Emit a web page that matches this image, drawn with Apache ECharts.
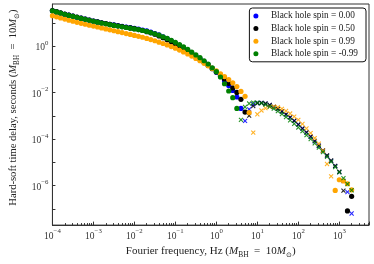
<!DOCTYPE html>
<html>
<head>
<meta charset="utf-8">
<script src="https://cdn.jsdelivr.net/npm/echarts/dist/echarts.min.js"></script>
<style>html,body{margin:0;padding:0;background:#fff;}#c{width:374px;height:264px;}</style>
</head>
<body>
<div id="c"></div>
<script>
// Fourier frequencies (Hz)
const freq = [
  1e-4,1.26e-4,1.58e-4,2e-4,2.51e-4,3.16e-4,3.98e-4,5.01e-4,6.31e-4,7.94e-4,
  1e-3,1.26e-3,1.58e-3,2e-3,2.51e-3,3.16e-3,3.98e-3,5.01e-3,6.31e-3,7.94e-3,
  0.01,0.0126,0.0158,0.02,0.0251,0.0316,0.0398,0.0501,0.0631,0.0794,
  0.1,0.126,0.158,0.2,0.251,0.316,0.398,0.501,0.631,0.794,
  1,1.26,1.58,2,2.51,3.16,3.98,5.01,6.31,7.94,
  10,12.6,15.8,20,25.1,31.6,39.8,50.1,63.1,79.4,
  100,126,158,200,251,316,398,501,631,794,
  1000,1260,1580,1995
];
// Hard-soft time delays (s); negative values are drawn as crosses (|value|)
const delaySpin000 = [
  33.1,29.5,26.3,23.4,21.4,19.5,17.4,15.8,14.5,13.2,
  12.0,11.0,10.0,9.33,8.71,8.13,7.59,7.08,6.61,6.17,
  5.75,5.37,4.90,4.47,3.98,3.47,3.02,2.51,2.09,1.70,
  1.35,1.07,0.851,0.661,0.501,0.380,0.288,0.214,0.155,0.110,
  0.0759,0.0501,0.0316,0.0200,0.0123,6.46e-3,2.09e-3,-6.03e-4,-1.91e-3,-3.16e-3,
  -3.63e-3,-3.63e-3,-3.31e-3,-2.88e-3,-2.40e-3,-1.95e-3,-1.51e-3,-1.15e-3,-8.51e-4,-6.03e-4,
  -4.17e-4,-2.82e-4,-1.91e-4,-1.26e-4,-7.94e-5,-5.01e-5,-3.09e-5,-1.91e-5,-1.15e-5,-6.92e-6,
  -3.80e-6,-1.58e-6,-5.25e-7,-6.31e-8
];
const delaySpin050 = [
  33.9,30.2,26.9,24.0,21.4,19.5,17.8,15.8,14.5,13.2,
  12.0,11.0,10.0,9.33,8.51,7.94,7.41,6.92,6.46,6.03,
  5.62,5.13,4.68,4.17,3.72,3.24,2.75,2.29,1.86,1.51,
  1.20,0.955,0.759,0.589,0.457,0.347,0.263,0.200,0.148,0.107,
  0.0776,0.0550,0.0380,0.0251,0.0158,0.0102,5.13e-3,1.45e-3,-1.02e-3,-2.63e-3,
  -3.47e-3,-3.63e-3,-3.39e-3,-2.95e-3,-2.45e-3,-2.00e-3,-1.55e-3,-1.17e-3,-8.71e-4,-6.17e-4,
  -4.27e-4,-2.88e-4,-1.95e-4,-1.29e-4,-8.32e-5,-5.25e-5,-3.24e-5,-2.00e-5,-1.20e-5,-7.08e-6,
  -3.98e-6,-6.03e-7,8.13e-8,3.47e-7
];
const delaySpin099 = [
  20.4,18.2,16.2,14.5,12.9,11.7,10.5,9.55,8.71,7.94,
  7.24,6.61,6.03,5.50,5.01,4.57,4.17,3.80,3.47,3.16,
  2.88,2.63,2.40,2.14,1.91,1.70,1.48,1.29,1.12,0.955,
  0.813,0.676,0.562,0.457,0.372,0.295,0.234,0.182,0.141,0.110,
  0.0851,0.0646,0.0490,0.0363,0.0263,0.0182,0.0112,6.92e-3,1.38e-3,-1.91e-4,
  -1.17e-3,-1.70e-3,-2.14e-3,-2.45e-3,-2.51e-3,-2.34e-3,-2.00e-3,-1.62e-3,-1.26e-3,-9.33e-4,
  -6.76e-4,-4.47e-4,-2.88e-4,-1.82e-4,-1.10e-4,-6.31e-5,-3.16e-5,-8.51e-6,-2.51e-6,6.17e-7,
  1.78e-6,1.58e-6,1.20e-6,6.61e-7
];
const delaySpinM099 = [
  33.1,29.5,26.3,23.4,20.9,19.1,17.4,15.5,14.1,12.9,
  11.7,10.7,9.77,9.12,8.32,7.76,7.24,6.76,6.31,5.89,
  5.50,5.13,4.68,4.27,3.80,3.39,2.95,2.51,2.14,1.78,
  1.45,1.17,0.933,0.724,0.550,0.417,0.316,0.234,0.170,0.117,
  0.0794,0.0468,0.0240,0.0117,6.03e-3,2.09e-3,-6.76e-4,-2.40e-3,-3.39e-3,-3.72e-3,
  -3.72e-3,-3.47e-3,-3.02e-3,-2.51e-3,-2.04e-3,-1.58e-3,-1.20e-3,-8.91e-4,-6.46e-4,-4.57e-4,
  -3.16e-4,-2.19e-4,-1.48e-4,-1.00e-4,-6.61e-5,-4.27e-5,-2.75e-5,-1.74e-5,-1.07e-5,-6.31e-6,
  -3.72e-6,-2.09e-6,-1.17e-6,-6.31e-7
];
const seriesNames = ['Black hole spin = 0.00','Black hole spin = 0.50','Black hole spin = 0.99','Black hole spin = -0.99'];
const seriesValues = [delaySpin000, delaySpin050, delaySpin099, delaySpinM099];
const seriesColors = ['#0000ff','#000000','#ffa500','#008000'];

const crossPath = 'path://M0,1.6L1.6,0L5,3.4L8.4,0L10,1.6L6.6,5L10,8.4L8.4,10L5,6.6L1.6,10L0,8.4L3.4,5Z';
const FONT = 'Liberation Serif';

const series = [];
seriesNames.forEach((name, s) => {
  const vals = seriesValues[s];
  const pos = [], neg = [];
  freq.forEach((f, i) => {
    const v = vals[i];
    if (v > 0) pos.push([f, v]); else neg.push([f, -v]);
  });
  series.push({
    name: name, type: 'scatter', data: pos, symbol: 'circle', symbolSize: 5.2,
    itemStyle: { color: seriesColors[s], opacity: 1 }, silent: true
  });
  series.push({
    name: name + ' (negative)', type: 'scatter', data: neg, symbol: crossPath, symbolSize: 4.8,
    itemStyle: { color: seriesColors[s], opacity: 0.85 }, silent: true
  });
});

function powLabel(v, everyOther) {
  const e = Math.log10(v);
  const r = Math.round(e);
  if (Math.abs(e - r) > 1e-6) return '';
  if (everyOther && r % 2 !== 0) return '';
  return '{b|10}{s|' + (r < 0 ? '\u2212' : '') + Math.abs(r) + '}';
}
const labelRich = {
  b: { fontFamily: FONT, fontSize: 9.5, color: '#333', lineHeight: 13, verticalAlign: 'bottom' },
  s: { fontFamily: FONT, fontSize: 6.8, color: '#333', lineHeight: 8, verticalAlign: 'top' }
};
function nameRich(size) {
  return {
    t: { fontFamily: FONT, fontSize: size, color: '#222', lineHeight: size + 4 },
    i: { fontFamily: FONT, fontSize: size, fontStyle: 'italic', color: '#222', lineHeight: size + 4 },
    s: { fontFamily: FONT, fontSize: size * 0.68, color: '#222', lineHeight: size * 0.9, verticalAlign: 'bottom' }
  };
}

const chart = echarts.init(document.getElementById('c'), null, { renderer: 'canvas' });
chart.setOption({
  animation: false,
  backgroundColor: '#fff',
  grid: { left: 40, right: 5, top: 4, bottom: 31, show: true, borderColor: '#333', borderWidth: 1, backgroundColor: 'transparent' },
  xAxis: {
    type: 'log', logBase: 10, min: 1e-4, max: 5297,
    name: '{t|Fourier frequency, Hz (}{i|M}{s|BH}{t|  =  10}{i|M}{s|\u2299}{t|)}',
    nameLocation: 'middle', nameGap: 14,
    nameTextStyle: { rich: nameRich(11) },
    axisLine: { lineStyle: { color: '#333', width: 1 } },
    axisTick: { inside: true, length: 3.5, lineStyle: { color: '#333' } },
    minorTick: { show: true, splitNumber: 9, length: 2, lineStyle: { color: '#333' } },
    splitLine: { show: false },
    axisLabel: { margin: 3, formatter: v => powLabel(v, false), rich: labelRich, showMinLabel: true, showMaxLabel: false }
  },
  yAxis: {
    type: 'log', logBase: 10, min: 2e-8, max: 64.6,
    name: '{t|Hard-soft time delay, seconds (}{i|M}{s|BH}{t|  =  10}{i|M}{s|\u2299}{t|)}',
    nameLocation: 'middle', nameGap: 25,
    nameTextStyle: { rich: nameRich(10.6), padding: [0, 0, 0, 14] },
    axisLine: { lineStyle: { color: '#333', width: 1 } },
    axisTick: { inside: true, length: 3, lineStyle: { color: '#333' } },
    splitLine: { show: false },
    axisLabel: { margin: 4, formatter: v => powLabel(v, true), rich: labelRich, showMinLabel: false, showMaxLabel: false }
  },
  legend: {
    data: seriesNames, orient: 'vertical', right: 8, top: 8,
    backgroundColor: '#fff', borderColor: '#111', borderWidth: 1, borderRadius: 3,
    padding: [3, 8, 3, 4], itemGap: 2.6, itemWidth: 20, itemHeight: 5, icon: 'circle',
    textStyle: { fontFamily: FONT, fontSize: 9.3, color: '#222', lineHeight: 10 }
  },
  series: series
});
</script>
</body>
</html>
